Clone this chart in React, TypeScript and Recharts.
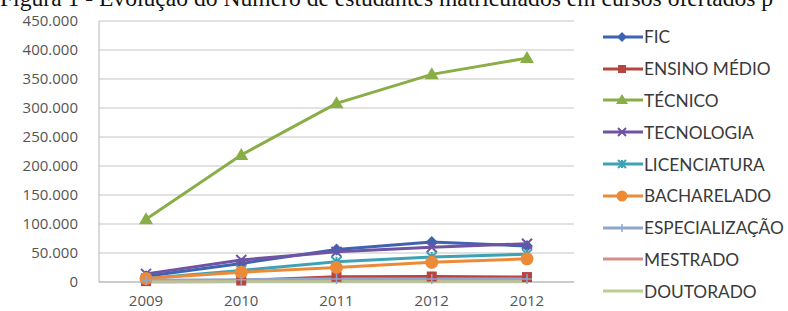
import { CartesianGrid, Line, LineChart, XAxis, YAxis } from "recharts";

const years = ["2009", "2010", "2011", "2012", "2012"];
const fic = [10000, 32000, 56000, 69000, 62000];
const ensinoMedio = [1500, 2500, 9000, 9500, 8500];
const tecnico = [108000, 219000, 308000, 358000, 386000];
const tecnologia = [14000, 38000, 52000, 60000, 66000];
const licenciatura = [6000, 20000, 35000, 43000, 48000];
const bacharelado = [6000, 17000, 25000, 34000, 40000];
const especializacao = [3000, 4000, 5000, 5000, 5000];
const mestrado = [600, 800, 1000, 1100, 1100];
const doutorado = [200, 300, 400, 400, 400];
const yTicks = [0, 50000, 100000, 150000, 200000, 250000, 300000, 350000, 400000, 450000];

type Marker = "diamond" | "square" | "triangle" | "x" | "star" | "circle" | "plus" | "none";

const series: { key: string; name: string; color: string; marker: Marker; values: number[] }[] = [
  { key: "fic", name: "FIC", color: "#3f63b3", marker: "diamond", values: fic },
  { key: "em", name: "ENSINO MÉDIO", color: "#b8443f", marker: "square", values: ensinoMedio },
  { key: "tec", name: "TÉCNICO", color: "#8aae47", marker: "triangle", values: tecnico },
  { key: "tecn", name: "TECNOLOGIA", color: "#6e54a3", marker: "x", values: tecnologia },
  { key: "lic", name: "LICENCIATURA", color: "#3ca3b4", marker: "star", values: licenciatura },
  { key: "bach", name: "BACHARELADO", color: "#ec8a38", marker: "circle", values: bacharelado },
  { key: "esp", name: "ESPECIALIZAÇÃO", color: "#8ea6cf", marker: "plus", values: especializacao },
  { key: "mest", name: "MESTRADO", color: "#d78d89", marker: "none", values: mestrado },
  { key: "dout", name: "DOUTORADO", color: "#b9cf8f", marker: "none", values: doutorado },
];

const data = years.map((y, i) => {
  const row: Record<string, string | number> = { year: y };
  series.forEach((s) => (row[s.key] = s.values[i]));
  return row;
});

const fmt = (v: number) => String(v).replace(/\B(?=(\d{3})+(?!\d))/g, ".");

function MarkerShape({ cx, cy, marker, color, r = 5 }: { cx: number; cy: number; marker: Marker; color: string; r?: number }) {
  switch (marker) {
    case "diamond":
      return <path d={`M${cx},${cy - r - 1}L${cx + r + 1},${cy}L${cx},${cy + r + 1}L${cx - r - 1},${cy}Z`} fill={color} />;
    case "square":
      return <rect x={cx - r} y={cy - r} width={r * 2} height={r * 2} fill={color} />;
    case "triangle":
      return <path d={`M${cx},${cy - r - 2}L${cx + r + 2},${cy + r}L${cx - r - 2},${cy + r}Z`} fill={color} />;
    case "x":
      return (
        <path d={`M${cx - r},${cy - r}L${cx + r},${cy + r}M${cx + r},${cy - r}L${cx - r},${cy + r}`} stroke={color} strokeWidth={2} />
      );
    case "star":
      return (
        <path
          d={`M${cx - r},${cy - r}L${cx + r},${cy + r}M${cx + r},${cy - r}L${cx - r},${cy + r}M${cx},${cy - r}L${cx},${cy + r}`}
          stroke={color}
          strokeWidth={2}
        />
      );
    case "circle":
      return <circle cx={cx} cy={cy} r={r + 1.5} fill={color} />;
    case "plus":
      return <path d={`M${cx - r},${cy}L${cx + r},${cy}M${cx},${cy - r}L${cx},${cy + r}`} stroke={color} strokeWidth={1.5} />;
    default:
      return null;
  }
}

function LegendItem({ name, color, marker }: { name: string; color: string; marker: Marker }) {
  return (
    <div style={{ display: "flex", alignItems: "center", height: 31.8 }}>
      <svg width={41} height={14} style={{ marginRight: 1 }}>
        <line x1={1} y1={7} x2={41} y2={7} stroke={color} strokeWidth={3} />
        <MarkerShape cx={20} cy={7} marker={marker} color={color} r={4} />
      </svg>
      <span>{name}</span>
    </div>
  );
}

export default function App() {
  return (
    <div style={{ position: "absolute", left: 0, top: 0, width: 788, height: 311, overflow: "hidden", background: "#fff" }}>
      <div
        style={{
          position: "absolute",
          left: 0,
          top: -13,
          fontFamily: "'Liberation Serif', 'Times New Roman', serif",
          fontSize: 23.6,
          lineHeight: "23.6px",
          whiteSpace: "nowrap",
          color: "#111",
        }}
      >
        Figura 1 - Evolução do Número de estudantes matriculados em cursos ofertados p
      </div>
      <LineChart
        width={788}
        height={311}
        data={data}
        margin={{ top: 21, right: 214, left: 8, bottom: 0 }}
        style={{ position: "absolute", left: 0, top: 0 }}
      >
        <CartesianGrid vertical={false} stroke="#c6c6c6" strokeWidth={1.2} />
        <XAxis
          dataKey="year"
          allowDuplicatedCategory
          padding={{ left: 47, right: 47 }}
          height={29}
          tickSize={0}
          tickMargin={13}
          axisLine={{ stroke: "#b5b5b5" }}
          tick={{ fill: "#555", fontSize: 15, fontFamily: "'Open Sans', sans-serif" }}
        />
        <YAxis
          domain={[0, 450000]}
          ticks={yTicks}
          width={91}
          tickSize={0}
          tickMargin={21}
          tickFormatter={fmt}
          axisLine={{ stroke: "#b5b5b5" }}
          tick={{ fill: "#555", fontSize: 15, fontFamily: "'Open Sans', sans-serif" }}
        />
        {series.map((s) => (
          <Line
            key={s.key}
            dataKey={s.key}
            name={s.name}
            stroke={s.color}
            strokeWidth={3}
            isAnimationActive={false}
            activeDot={false}
            dot={(p: any) => (
              <g key={`${s.key}-${p.index}`}>
                <MarkerShape cx={p.cx} cy={p.cy} marker={s.marker} color={s.color} />
              </g>
            )}
          />
        ))}
      </LineChart>
      <div
        style={{
          position: "absolute",
          left: 602,
          top: 21,
          fontFamily: "Lato, sans-serif",
          fontSize: 17.3,
          color: "#3a3a3a",
        }}
      >
        {series.map((s) => (
          <LegendItem key={s.key} name={s.name} color={s.color} marker={s.marker} />
        ))}
      </div>
    </div>
  );
}
